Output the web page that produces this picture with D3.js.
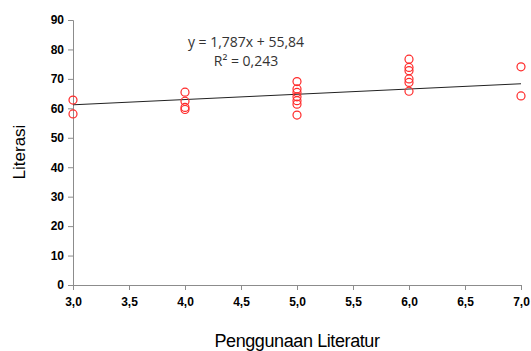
<!DOCTYPE html>
<html lang="en">
<head>
    <meta charset="UTF-8">
    <title>Literasi vs Penggunaan Literatur</title>
    <script src="https://d3js.org/d3.v7.min.js"></script>
    <style>
        body { margin: 0; background: #fff; }
    </style>
</head>
<body>
    <svg width="531" height="351"></svg>
    <script>
        // data
        const xValues = [3, 3, 4, 4, 4, 4, 5, 5, 5, 5, 5, 5, 5, 6, 6, 6, 6, 6, 6, 7, 7];
        const yValues = [62.8, 58.1, 65.5, 62.4, 60.3, 59.6, 69.1, 66.6, 65.4, 63.9, 62.6, 61.4, 57.7, 76.7, 73.9, 72.8, 70.0, 68.8, 65.8, 74.1, 64.2];
        const xTicks = [3, 3.5, 4, 4.5, 5, 5.5, 6, 6.5, 7];
        const yTicks = [0, 10, 20, 30, 40, 50, 60, 70, 80, 90];
        const trend = [1.787, 55.84]; // slope, intercept
        const eqLabels = ['y = 1,787x + 55,84', 'R² = 0,243'];

        const svg = d3.select('svg');
        const fmt = d => d3.format('.1f')(d).replace('.', ',');

        const x = d3.scaleLinear().domain([3, 7]).range([73, 521]);
        const y = d3.scaleLinear().domain([0, 90]).range([285, 20]);

        // y axis
        const yAxis = d3.axisLeft(y).tickValues(yTicks).tickSize(5).tickPadding(4);
        const gy = svg.append('g')
            .attr('transform', `translate(${x(3)},0)`)
            .call(yAxis);

        // x axis
        const xAxis = d3.axisBottom(x).tickValues(xTicks).tickFormat(fmt).tickSize(5).tickPadding(7);
        const gx = svg.append('g')
            .attr('transform', `translate(0,${y(0)})`)
            .call(xAxis);

        [gx, gy].forEach(g => {
            g.select('.domain').attr('stroke', '#8c8c8c');
            g.selectAll('.tick line').attr('stroke', '#8c8c8c');
            g.selectAll('.tick text')
                .attr('fill', '#000')
                .style('font-family', '"Liberation Sans", Arial, sans-serif')
                .style('font-weight', 'bold')
                .style('font-size', '12px');
        });

        // trend line
        svg.append('line')
            .attr('x1', x(3)).attr('y1', y(trend[0] * 3 + trend[1]))
            .attr('x2', x(7)).attr('y2', y(trend[0] * 7 + trend[1]))
            .attr('stroke', '#222')
            .attr('stroke-width', 1);

        // points
        svg.append('g').selectAll('circle')
            .data(xValues.map((d, i) => [d, yValues[i]]))
            .join('circle')
            .attr('cx', d => x(d[0]))
            .attr('cy', d => y(d[1]))
            .attr('r', 4)
            .attr('fill', 'none')
            .attr('stroke', '#ff2a2a')
            .attr('stroke-width', 1.2);

        // equation
        svg.append('g').selectAll('text')
            .data(eqLabels)
            .join('text')
            .attr('x', 246)
            .attr('y', (d, i) => 47 + i * 19)
            .attr('text-anchor', 'middle')
            .style('font-family', '"Open Sans", "Liberation Sans", sans-serif')
            .style('font-size', '14px')
            .attr('fill', '#333')
            .text(d => d);

        // axis titles
        svg.append('text')
            .attr('transform', 'translate(25,152) rotate(-90)')
            .attr('text-anchor', 'middle')
            .style('font-family', '"Liberation Sans", Arial, sans-serif')
            .style('font-size', '17px')
            .attr('fill', '#000')
            .text('Literasi');

        svg.append('text')
            .attr('x', 297)
            .attr('y', 347)
            .attr('text-anchor', 'middle')
            .style('font-family', '"Liberation Sans", Arial, sans-serif')
            .style('font-size', '18px')
            .style('letter-spacing', '-0.4px')
            .attr('fill', '#000')
            .text('Penggunaan Literatur');
    </script>
</body>
</html>
